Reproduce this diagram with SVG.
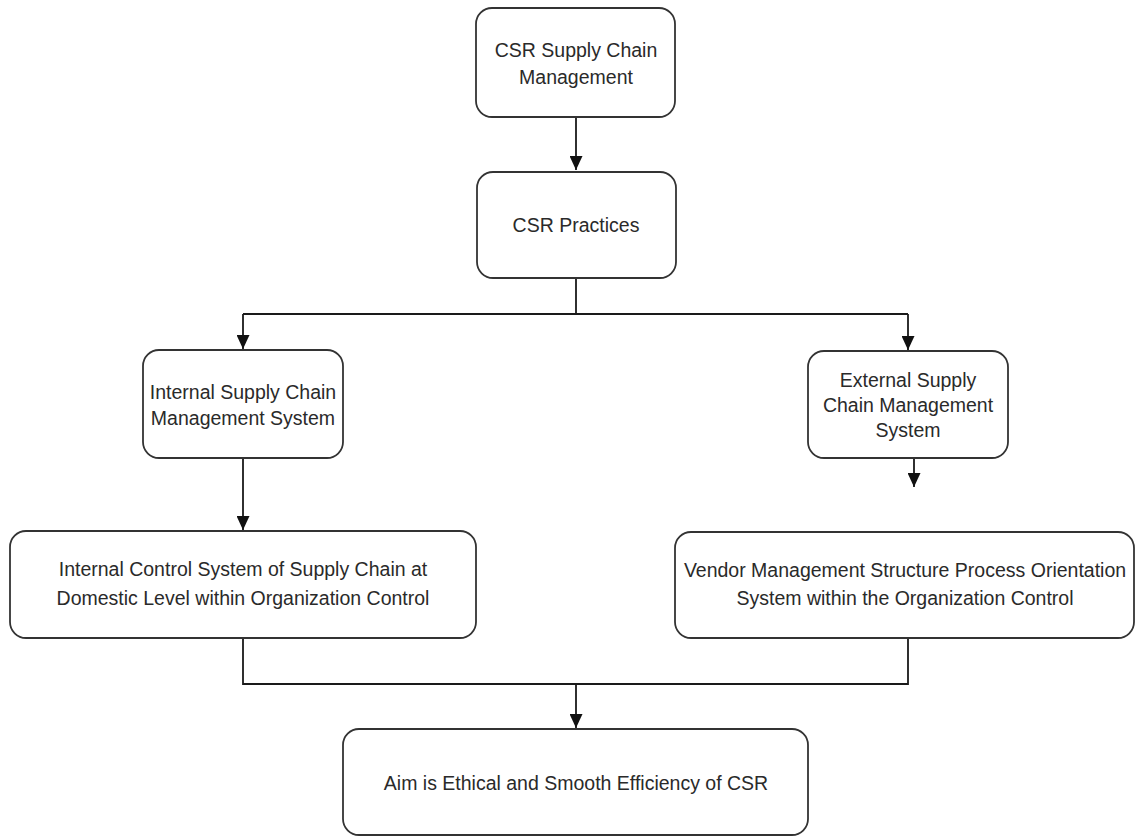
<svg xmlns="http://www.w3.org/2000/svg" width="1135" height="836" viewBox="0 0 1135 836">
<style>
.box{fill:#ffffff;stroke:#333333;stroke-width:1.8}
.t{font-family:"Liberation Sans",Arial,sans-serif;font-size:19.5px;fill:#2a2a2a;text-anchor:middle}
.c{fill:none;stroke:#1a1a1a;stroke-width:1.8}
</style>
<defs>
<marker id="ah" markerUnits="userSpaceOnUse" markerWidth="14" markerHeight="13" refX="14" refY="6.5" orient="auto">
<path d="M0,0 L14,6.5 L0,13 z" fill="#111111"/>
</marker>
</defs>
<rect width="1135" height="836" fill="#ffffff"/>
<g id="connectors">
<path class="c" d="M576,117 V170" marker-end="url(#ah)"/>
<path class="c" d="M576,278 V314"/>
<path class="c" d="M243,314 H908"/>
<path class="c" d="M243,314 V349" marker-end="url(#ah)"/>
<path class="c" d="M908,314 V350" marker-end="url(#ah)"/>
<path class="c" d="M243,458 V530" marker-end="url(#ah)"/>
<path class="c" d="M914,458 V487" marker-end="url(#ah)"/>
<path class="c" d="M243,638 V684 H908 V638"/>
<path class="c" d="M576,684 V728" marker-end="url(#ah)"/>
</g>
<g id="n1">
<rect class="box" x="476" y="8" width="199" height="109" rx="16"/>
<text class="t" x="576" y="57">CSR Supply Chain</text>
<text class="t" x="576" y="84">Management</text>
</g>
<g id="n2">
<rect class="box" x="477" y="172" width="199" height="106" rx="16"/>
<text class="t" x="576" y="232">CSR Practices</text>
</g>
<g id="n3">
<rect class="box" x="143" y="350" width="200" height="108" rx="16"/>
<text class="t" x="243" y="399">Internal Supply Chain</text>
<text class="t" x="243" y="425">Management System</text>
</g>
<g id="n4">
<rect class="box" x="808" y="351" width="200" height="107" rx="16"/>
<text class="t" x="908" y="387">External Supply</text>
<text class="t" x="908" y="412">Chain Management</text>
<text class="t" x="908" y="437">System</text>
</g>
<g id="n5">
<rect class="box" x="10" y="531" width="466" height="107" rx="16"/>
<text class="t" x="243" y="576">Internal Control System of Supply Chain at</text>
<text class="t" x="243" y="605">Domestic Level within Organization Control</text>
</g>
<g id="n6">
<rect class="box" x="675" y="532" width="459" height="106" rx="16"/>
<text class="t" x="905" y="577">Vendor Management Structure Process Orientation</text>
<text class="t" x="905" y="605">System within the Organization Control</text>
</g>
<g id="n7">
<rect class="box" x="343" y="729" width="465" height="106" rx="16"/>
<text class="t" x="576" y="790">Aim is Ethical and Smooth Efficiency of CSR</text>
</g>
</svg>
